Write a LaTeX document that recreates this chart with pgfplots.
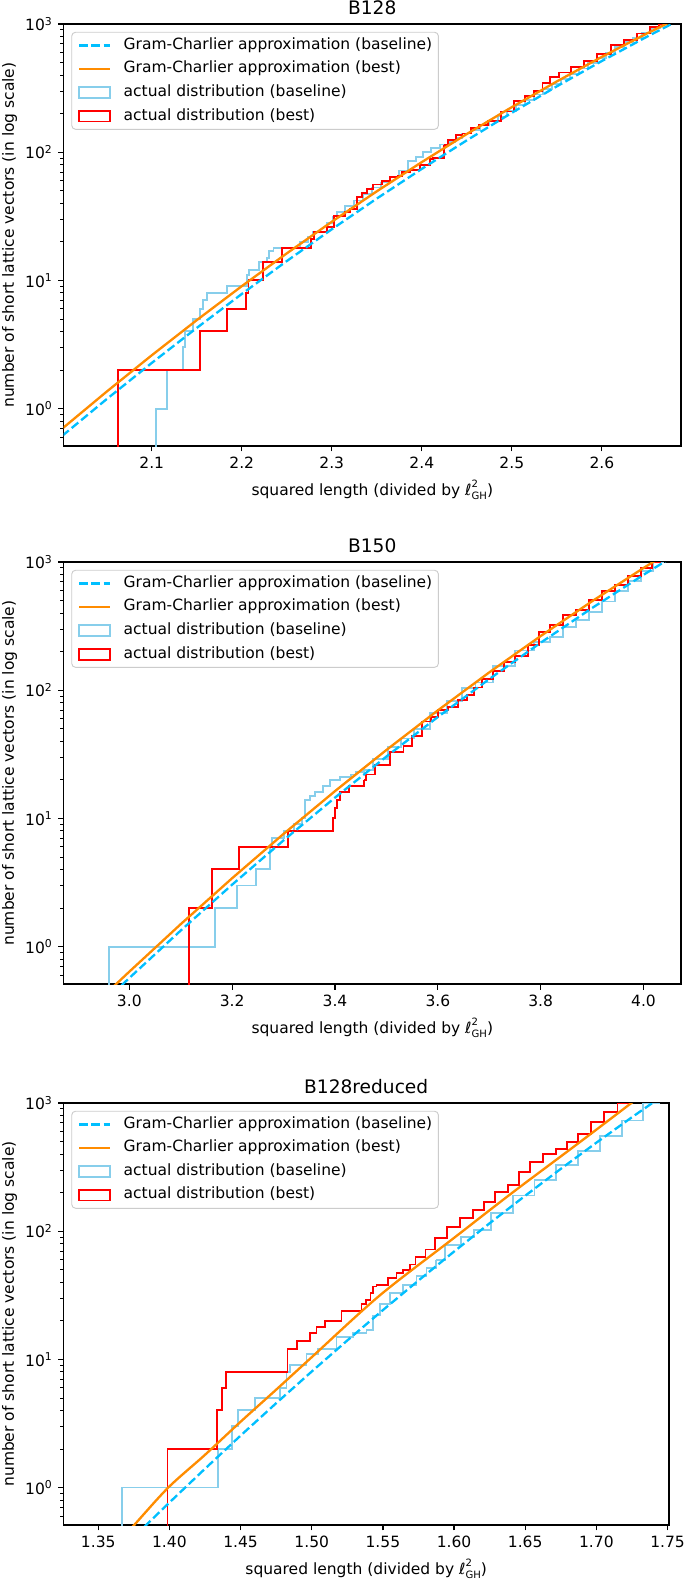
\documentclass[border=0pt]{standalone}
\usepackage{fontspec}
\setmainfont{DejaVu Sans}
\usepackage{pgfplots}
\pgfplotsset{compat=1.18}
\definecolor{gcblue}{RGB}{0,191,255}
\definecolor{gcorange}{RGB}{255,140,0}
\definecolor{actblue}{RGB}{135,206,235}
\definecolor{actred}{RGB}{255,0,0}
\definecolor{legframe}{RGB}{204,204,204}
\newcommand{\xlab}{squared length (divided by {\itshape ℓ}\rlap{\raisebox{4.8pt}{\fontsize{6.5}{7}\selectfont 2}}\raisebox{-3pt}{\fontsize{6.5}{7}\selectfont GH})}
\pgfplotsset{
  gcbase/.style={color=gcblue, line width=1.5pt, dash pattern=on 5.55pt off 2.4pt},
  gcbest/.style={color=gcorange, line width=1.5pt},
  actbase/.style={color=actblue, line width=1.2pt},
  actbest/.style={color=actred, line width=1.2pt},
  linelegend/.style={legend image code/.code={\draw[##1, sharp corners] (0pt,0pt) -- (20pt,0pt);}},
  rectlegend/.style={legend image code/.code={\draw[##1, sharp corners] (0pt,-3.5pt) rectangle (20pt,3.5pt);}},
  myaxisstyle/.style={
    scale only axis,
    height=272.2pt,
    ymin=0.51, ymax=1000,
    ytick={1,10,100,1000},
    yticklabels={10\textsuperscript{0},10\textsuperscript{1},10\textsuperscript{2},10\textsuperscript{3}},
    minor ytick={0.6,0.7,0.8,0.9,2,3,4,5,6,7,8,9,20,30,40,50,60,70,80,90,200,300,400,500,600,700,800,900},
    tick align=outside, tick pos=left,
    major tick length=3.5pt, minor tick length=2pt,
    major tick style={black, line width=0.8pt},
    minor tick style={black, line width=0.6pt},
    axis line style={line width=0.8pt},
    ticklabel style={font=\fontsize{10}{12}\selectfont},
    label style={font=\fontsize{10}{12}\selectfont},
    xlabel={\xlab},
    ylabel={number of short lattice vectors (in log scale)},
    xlabel style={at={(axis description cs:0.5,0)}, anchor=base, yshift=-31.6pt},
    title style={at={(axis description cs:0.5,1)}, anchor=base, yshift=0pt, font=\fontsize{12}{14.4}\selectfont},
    legend cell align=left,
    legend style={at={(axis description cs:0,1)}, anchor=north west, xshift=5pt, yshift=-5pt,
      draw=legframe, line width=0.6pt, rounded corners=2.5pt, fill=white, fill opacity=0.8, text opacity=1,
      inner xsep=4pt, inner ysep=3.5pt, column sep=8pt, row sep=5.2pt,
      font=\fontsize{10}{12}\selectfont,
      nodes={inner xsep=0pt, inner ysep=0pt, text height=7.5pt, text depth=2.5pt}},
  }
}
\newcommand{\legendentries}{%
  \addlegendimage{gcbase, linelegend}\addlegendentry{Gram-Charlier approximation (baseline)}
  \addlegendimage{gcbest, linelegend}\addlegendentry{Gram-Charlier approximation (best)}
  \addlegendimage{actbase, rectlegend}\addlegendentry{actual distribution (baseline)}
  \addlegendimage{actbest, rectlegend}\addlegendentry{actual distribution (best)}
}
\begin{document}
\begin{tikzpicture}
\path[use as bounding box] (0pt,0pt) rectangle (441.8pt,-1019.7pt);
% ---------------- B128 ----------------
\begin{axis}[ymode=log, myaxisstyle, at={(40.96pt,-287.7pt)}, anchor=south west, width=398.3pt,
  title={B128}, xmin=2.002, xmax=2.688,
  xtick={2.1,2.2,2.3,2.4,2.5,2.6}, xticklabels={2.1,2.2,2.3,2.4,2.5,2.6},
  ylabel style={at={(axis description cs:-0.0874,0.5)}, anchor=center}]
\legendentries
\addplot[actbase, const plot, forget plot] coordinates {
(2.1044,0.3) (2.1044,1) (2.1167,2) (2.1344,3) (2.137,4) (2.1456,5) (2.1537,6) (2.1574,7) (2.1611,8) (2.1833,9) (2.2056,11) (2.2085,12) (2.2196,14) (2.2278,15) (2.2307,17) (2.2352,18) (2.2648,20) (2.274,22) (2.2796,24) (2.2944,28) (2.3018,32)};
\addplot[actbase, const plot mark mid, forget plot] coordinates {
(2.3018,32) (2.31,34) (2.32,38) (2.33,42) (2.34,47) (2.35,53) (2.36,58) (2.37,64) (2.38,72) (2.39,85) (2.398,92) (2.405,100) (2.415,108) (2.425,115) (2.435,120) (2.44,130) (2.45,140) (2.46,150) (2.47,162) (2.48,175) (2.49,190) (2.50,210) (2.51,232) (2.52,255) (2.53,282) (2.54,310) (2.55,338) (2.56,370) (2.57,410) (2.58,450) (2.59,495) (2.60,545) (2.61,600) (2.62,660) (2.63,720) (2.64,780) (2.65,850) (2.66,930) (2.67,1050) (2.69,1200)};
\addplot[actbest, const plot, forget plot] coordinates {
(2.0629,0.3) (2.0629,2) (2.1537,4) (2.1833,6) (2.2048,8) (2.2075,10) (2.2233,14) (2.2444,18) (2.2767,21) (2.2803,24) (2.2944,26) (2.3029,32) (2.3148,34) (2.3203,36) (2.3278,45) (2.3333,48) (2.3389,52) (2.3462,56) (2.3556,60) (2.3648,64) (2.374,65) (2.3778,70) (2.387,73) (2.3981,80) (2.4092,88) (2.412,90) (2.4244,113)};
\addplot[actbest, const plot mark mid, forget plot] coordinates {
(2.4244,113) (2.4341,124) (2.4415,136) (2.4488,140) (2.461,154) (2.4659,163) (2.4805,174) (2.4951,208) (2.5098,250) (2.5195,274) (2.5293,300) (2.539,349) (2.5463,387) (2.5585,419) (2.5732,459) (2.5878,518) (2.6024,585) (2.6171,681) (2.6317,756) (2.6463,843) (2.661,952) (2.6659,1000) (2.675,1100) (2.69,1200)};
\addplot[gcbase, forget plot] coordinates {
(1.99,0.531) (2.0,0.608) (2.05,1.186) (2.1,2.269) (2.15,4.257) (2.2,7.834) (2.25,14.15) (2.3,25.05) (2.35,43.5) (2.4,74.13) (2.45,123.8) (2.5,203) (2.55,326.4) (2.6,514.5) (2.65,796) (2.7,1208)};
\addplot[gcbest, forget plot] coordinates {
(1.99,0.603) (2.0,0.692) (2.05,1.357) (2.1,2.604) (2.15,4.898) (2.2,9.014) (2.25,16.25) (2.3,28.66) (2.35,49.53) (2.4,83.75) (2.45,138.7) (2.5,224.8) (2.55,356.8) (2.6,554.5) (2.65,843.8) (2.7,1257)};
\end{axis}
% ---------------- B150 ----------------
\begin{axis}[ymode=log, myaxisstyle, at={(40.96pt,-634.7pt)}, anchor=south west, width=398.3pt,
  title={B150}, xmin=2.872, xmax=4.073,
  xtick={3.0,3.2,3.4,3.6,3.8,4.0}, xticklabels={3.0,3.2,3.4,3.6,3.8,4.0},
  ylabel style={at={(axis description cs:-0.0874,0.5)}, anchor=center}]
\legendentries
\addplot[actbase, const plot, forget plot] coordinates {
(2.9607,0.3) (2.9607,1) (3.1667,2) (3.2101,3) (3.2465,4) (3.2737,6) (3.2776,7) (3.30,8) (3.32,9) (3.335,10) (3.3418,14) (3.3516,15) (3.3613,16) (3.3774,18) (3.3905,20) (3.41,21) (3.4312,22) (3.44,23) (3.4567,24)};
\addplot[actbase, const plot mark mid, forget plot] coordinates {
(3.4567,24) (3.4907,29) (3.5161,36) (3.5416,42) (3.5671,50) (3.601,66) (3.635,82) (3.6604,104) (3.6859,115) (3.7284,155) (3.7708,204) (3.8048,237) (3.8302,260) (3.8557,312) (3.8812,352) (3.9066,410) (3.9321,492) (3.9576,590) (3.983,708) (4.0085,849) (4.0297,1000) (4.045,1150)};
\addplot[actbest, const plot, forget plot] coordinates {
(3.1155,0.3) (3.1155,2) (3.160,4) (3.214,6) (3.308,8) (3.3957,10) (3.4002,12) (3.4047,14) (3.4099,16) (3.428,18) (3.4567,20)};
\addplot[actbest, const plot mark mid, forget plot] coordinates {
(3.4567,20) (3.4652,22) (3.4907,26) (3.5246,33) (3.5416,37) (3.5586,44) (3.5798,57) (3.5925,62) (3.6095,70) (3.6307,74) (3.6477,84) (3.6647,92) (3.6774,105) (3.6944,122) (3.7199,142) (3.7368,165) (3.7623,186) (3.7878,224) (3.8048,285) (3.8302,321) (3.8557,386) (3.8812,423) (3.9066,507) (3.9321,590) (3.9576,666) (3.983,775) (4.0085,902) (4.0255,1000) (4.04,1150)};
\addplot[gcbase, forget plot] coordinates {
(2.95,0.368) (3.0,0.569) (3.1,1.335) (3.2,3.045) (3.3,6.745) (3.4,14.53) (3.5,30.4) (3.6,61.83) (3.7,122.2) (3.8,234.8) (3.9,438.1) (4.0,795.2) (4.05,1059) (4.08,1186)};
\addplot[gcbest, forget plot] coordinates {
(2.95,0.412) (2.975,0.513) (3.0,0.6375) (3.1,1.497) (3.2,3.417) (3.3,7.577) (3.4,16.33) (3.5,34.2) (3.6,69.64) (3.7,137.8) (3.8,264.8) (3.9,494.9) (4.0,898.6) (4.05,1198)};
\end{axis}
% ---------------- B128reduced ----------------
\begin{axis}[ymode=log, myaxisstyle, at={(40.96pt,-983.6pt)}, anchor=south west, width=390.5pt,
  title={B128reduced}, xmin=1.3256, xmax=1.751,
  xtick={1.35,1.40,1.45,1.50,1.55,1.60,1.65,1.70,1.75}, xticklabels={1.35,1.40,1.45,1.50,1.55,1.60,1.65,1.70,1.75},
  ylabel style={at={(axis description cs:-0.0892,0.5)}, anchor=center}]
\legendentries
\addplot[actbase, const plot, forget plot] coordinates {
(1.3664,0.3) (1.3664,1) (1.4339,2) (1.4437,3) (1.4479,4) (1.46,5) (1.4776,6) (1.4823,8) (1.4846,9) (1.4963,11) (1.5045,12) (1.5174,15) (1.5291,16) (1.5385,17) (1.5431,22) (1.5478,27) (1.5548,33) (1.5642,38) (1.5736,45) (1.5806,52) (1.5876,60)};
\addplot[actbase, const plot mark mid, forget plot] coordinates {
(1.5876,60) (1.5998,78) (1.61,90) (1.6182,102) (1.6336,138) (1.6489,190) (1.6642,250) (1.6796,330) (1.6949,425) (1.7102,550) (1.7255,730) (1.7396,1000) (1.748,1150)};
\addplot[actbest, const plot, forget plot] coordinates {
(1.3987,0.3) (1.3987,2) (1.4336,4) (1.4367,6) (1.4395,8) (1.483,12) (1.4897,14) (1.4987,16) (1.5034,18) (1.5092,20) (1.5209,24) (1.535,27) (1.538,29) (1.5413,33) (1.5431,37) (1.5455,38) (1.5537,43) (1.5596,47) (1.5642,50) (1.5689,55)};
\addplot[actbest, const plot mark mid, forget plot] coordinates {
(1.5689,55) (1.5769,63) (1.583,72) (1.5907,88) (1.5998,108) (1.609,126) (1.6182,146) (1.6244,169) (1.6336,202) (1.6428,228) (1.6489,290) (1.6581,347) (1.6673,403) (1.6765,441) (1.6826,497) (1.6918,577) (1.701,711) (1.7102,851) (1.7194,1000) (1.725,1150)};
\addplot[gcbase, forget plot] coordinates {
(1.37,0.3625) (1.3835,0.508) (1.40,0.764) (1.425,1.402) (1.45,2.542) (1.475,4.549) (1.50,8.04) (1.525,14.05) (1.55,24.23) (1.575,41.24) (1.60,69.37) (1.625,115.3) (1.65,189.1) (1.675,306.4) (1.70,490.4) (1.725,774.8) (1.75,1209)};
\addplot[gcbest, smooth, forget plot] coordinates {
(1.36,0.331) (1.3751,0.508) (1.3992,1.0) (1.425,1.80) (1.45,3.26) (1.475,5.80) (1.50,10.4) (1.5478,31.55) (1.60,88.7) (1.6414,201.4) (1.6883,494.3) (1.7246,1000) (1.74,1349)};
\end{axis}
\end{tikzpicture}
\end{document}
